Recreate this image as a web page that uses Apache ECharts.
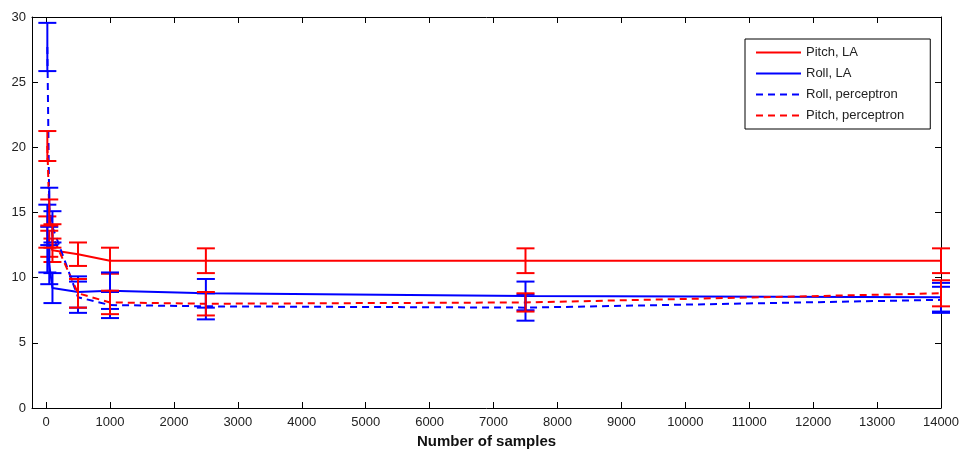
<!DOCTYPE html>
<html>
<head>
<meta charset="utf-8">
<script src="https://cdn.jsdelivr.net/npm/echarts@6/dist/echarts.min.js"></script>
<style>
  html, body { margin: 0; padding: 0; background: #fff; }
  #chart { width: 966px; height: 455px; }
</style>
</head>
<body>
<div id="chart"></div>
<script>
// number of training samples
const samples = [20, 50, 100, 500, 1000, 2500, 7500, 14000]
const xTicks = [0, 1000, 2000, 3000, 4000, 5000, 6000, 7000, 8000, 9000, 10000, 11000, 12000, 13000, 14000]

// mean error and half-width of the error bar, per series
const pitchLA = [13.5, 12.6, 12.1, 11.8, 11.3, 11.3, 11.3, 11.3]
const pitchLAErr = [1.2, 1.0, 0.9, 0.9, 1.0, 0.95, 0.95, 0.95]
const rollLA = [13.0, 11.0, 9.2, 8.9, 9.0, 8.8, 8.6, 8.5]
const rollLAErr = [2.6, 1.5, 1.15, 1.2, 1.4, 1.1, 1.1, 1.1]
const rollPer = [27.7, 15.4, 13.9, 8.5, 7.9, 7.8, 7.7, 8.3]
const rollPerErr = [1.85, 1.5, 1.2, 1.2, 1.0, 1.0, 1.0, 1.0]
const pitchPer = [20.1, 15.0, 13.2, 8.8, 8.1, 8.0, 8.1, 8.8]
const pitchPerErr = [1.15, 1.0, 0.9, 1.1, 0.9, 0.9, 0.7, 1.0]

const RED = '#ff0000'
const BLUE = '#0000ff'
const FONT = 'Liberation Sans'

function pairs(vals) {
  return samples.map((x, i) => [x, vals[i]])
}

function bars(vals, errs) {
  return samples.map((x, i) => [x, vals[i] - errs[i], vals[i] + errs[i]])
}

function lineSeries(name, vals, color, dashed) {
  return {
    name: name,
    type: 'line',
    data: pairs(vals),
    symbol: 'none',
    lineStyle: { color: color, width: 2, type: dashed ? [7, 5] : 'solid' },
    itemStyle: { color: color },
    z: 3,
  }
}

function errorSeries(vals, errs, color) {
  return {
    type: 'custom',
    data: bars(vals, errs),
    encode: { x: 0, y: [1, 2] },
    z: 4,
    renderItem: (params, api) => {
      const x = api.value(0)
      const top = api.coord([x, api.value(2)])
      const bot = api.coord([x, api.value(1)])
      const hw = 9
      const style = { stroke: color, lineWidth: 2 }
      return {
        type: 'group',
        children: [
          { type: 'line', shape: { x1: top[0], y1: top[1], x2: bot[0], y2: bot[1] }, style: style },
          { type: 'line', shape: { x1: top[0] - hw, y1: top[1], x2: top[0] + hw, y2: top[1] }, style: style },
          { type: 'line', shape: { x1: bot[0] - hw, y1: bot[1], x2: bot[0] + hw, y2: bot[1] }, style: style },
        ],
      }
    },
  }
}

const axisLine = { show: true, onZero: false, lineStyle: { color: '#000', width: 1 } }
const tick = { show: true, inside: true, length: 6, lineStyle: { color: '#000' } }
const label = { color: '#222', fontSize: 13, fontFamily: FONT, formatter: (v) => String(v) }

const chart = echarts.init(document.getElementById('chart'))
chart.setOption({
  animation: false,
  backgroundColor: '#fff',
  grid: { left: 32, right: 25, top: 17, bottom: 47 },
  legend: {
    data: ['Pitch, LA', 'Roll, LA', 'Roll, perceptron', 'Pitch, perceptron'],
    orient: 'vertical',
    left: 745,
    top: 39,
    padding: [7, 26, 7, 10],
    itemGap: 8,
    itemWidth: 45,
    itemHeight: 14,
    itemStyle: { opacity: 0 },
    backgroundColor: '#fff',
    borderColor: '#000',
    borderWidth: 1,
    textStyle: { color: '#222', fontSize: 13, fontFamily: FONT },
  },
  xAxis: [
    {
      type: 'value',
      min: -220,
      max: 14000,
      name: 'Number of samples',
      nameLocation: 'middle',
      nameGap: 24,
      nameTextStyle: { color: '#111', fontSize: 15, fontWeight: 'bold', fontFamily: FONT },
      axisLine: axisLine,
      axisTick: Object.assign({ customValues: xTicks }, tick),
      axisLabel: Object.assign({ customValues: xTicks, margin: 8 }, label),
      splitLine: { show: false },
    },
    {
      type: 'value',
      position: 'top',
      min: -220,
      max: 14000,
      axisLine: axisLine,
      axisTick: Object.assign({ customValues: xTicks }, tick),
      axisLabel: { show: false },
      splitLine: { show: false },
    },
  ],
  yAxis: [
    {
      type: 'value',
      min: 0,
      max: 30,
      interval: 5,
      axisLine: axisLine,
      axisTick: tick,
      axisLabel: Object.assign({ margin: 6 }, label),
      splitLine: { show: false },
    },
    {
      type: 'value',
      position: 'right',
      min: 0,
      max: 30,
      interval: 5,
      axisLine: axisLine,
      axisTick: tick,
      axisLabel: { show: false },
      splitLine: { show: false },
    },
  ],
  series: [
    lineSeries('Pitch, LA', pitchLA, RED, false),
    errorSeries(pitchLA, pitchLAErr, RED),
    lineSeries('Roll, LA', rollLA, BLUE, false),
    errorSeries(rollLA, rollLAErr, BLUE),
    lineSeries('Roll, perceptron', rollPer, BLUE, true),
    errorSeries(rollPer, rollPerErr, BLUE),
    lineSeries('Pitch, perceptron', pitchPer, RED, true),
    errorSeries(pitchPer, pitchPerErr, RED),
  ],
})
</script>
</body>
</html>
